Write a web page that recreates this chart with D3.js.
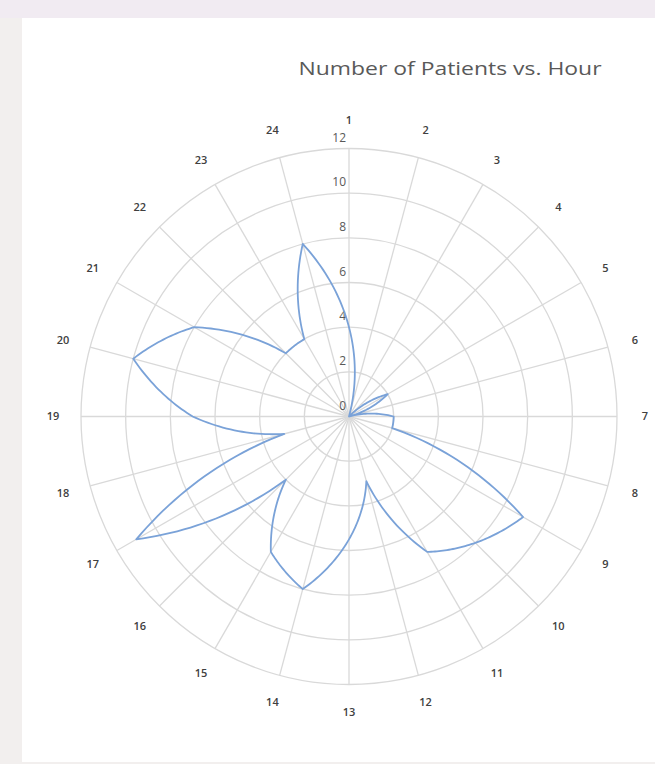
<!DOCTYPE html>
<html>
<head>
<meta charset="utf-8">
<script src="https://cdn.jsdelivr.net/npm/d3@7"></script>
<style>
  html, body { margin: 0; padding: 0; background: #f2efee; }
  svg { display: block; }
</style>
</head>
<body>
<svg id="chart" width="655" height="764"></svg>
<script>
// Hours of the day (spoke labels) and number of patients seen in each hour
const hourLabels = ["1","2","3","4","5","6","7","8","9","10","11","12",
                    "13","14","15","16","17","18","19","20","21","22","23","24"];
const patients = [4, 0, 0, 0, 2, 0, 2, 2, 9, 8, 7, 3,
                  5.5, 8, 7, 4, 11, 3, 7, 10, 8, 4, 4, 8];
const radialTicks = [0, 2, 4, 6, 8, 10, 12];
const chartTitle = "Number of Patients vs. Hour";

const svg = d3.select("#chart");
const W = 655, H = 764;

// page background and white chart panel
svg.append("rect").attr("x", 0).attr("y", 0).attr("width", W).attr("height", H).attr("fill", "#f2efee");
svg.append("rect").attr("x", 0).attr("y", 0).attr("width", W).attr("height", 18).attr("fill", "#f1ebf2");
svg.append("rect").attr("x", 22).attr("y", 18).attr("width", W - 22).attr("height", 744).attr("fill", "#ffffff");

const cx = 349, cy = 416.5, R = 268;

const angle = d3.scaleLinear().domain([0, hourLabels.length]).range([0, 2 * Math.PI]);
const r = d3.scaleLinear().domain([0, 12]).range([0, R]);

const g = svg.append("g").attr("transform", `translate(${cx},${cy})`);

// concentric rings
g.selectAll("circle.ring")
  .data(radialTicks.filter(d => d > 0))
  .join("circle")
  .attr("class", "ring")
  .attr("r", d => r(d))
  .attr("fill", "none")
  .attr("stroke", "#d9d9d9")
  .attr("stroke-width", 1.3);

// spokes, one per hour
g.selectAll("line.spoke")
  .data(hourLabels)
  .join("line")
  .attr("class", "spoke")
  .attr("x1", 0).attr("y1", 0)
  .attr("x2", (d, i) => r(12) * Math.sin(angle(i)))
  .attr("y2", (d, i) => -r(12) * Math.cos(angle(i)))
  .attr("stroke", "#d9d9d9")
  .attr("stroke-width", 1.3);

// radial value labels along the first spoke
g.selectAll("text.tick")
  .data(radialTicks)
  .join("text")
  .attr("class", "tick")
  .attr("x", -3)
  .attr("y", d => -r(d) - 11)
  .attr("dy", "0.35em")
  .attr("text-anchor", "end")
  .attr("font-family", "'Open Sans', sans-serif")
  .attr("font-size", 12)
  .attr("fill", "#595959")
  .text(d => d);

// hour labels around the outside
const labelR = 296;
g.selectAll("text.hour")
  .data(hourLabels)
  .join("text")
  .attr("class", "hour")
  .attr("x", (d, i) => labelR * Math.sin(angle(i)))
  .attr("y", (d, i) => -labelR * Math.cos(angle(i)))
  .attr("dy", "0.35em")
  .attr("text-anchor", "middle")
  .attr("font-family", "'Open Sans', sans-serif")
  .attr("font-size", 11)
  .attr("font-weight", 600)
  .attr("fill", "#404040")
  .text(d => d);

// series line: between two hours the radius changes linearly with the angle,
// so each segment is drawn as a short spiral arc
const steps = 24;
const tracePts = [];
patients.forEach((v, i) => {
  const next = patients[(i + 1) % patients.length];
  for (let k = 0; k < steps; k++) {
    const t = k / steps;
    tracePts.push({ a: angle(i + t), v: v + (next - v) * t });
  }
});

const radial = d3.lineRadial()
  .angle(d => d.a)
  .radius(d => r(d.v))
  .curve(d3.curveLinearClosed);

g.append("path")
  .datum(tracePts)
  .attr("d", radial)
  .attr("fill", "none")
  .attr("stroke", "#7aa2d8")
  .attr("stroke-width", 1.8)
  .attr("stroke-linejoin", "round");

// title
svg.append("text")
  .attr("x", 450)
  .attr("y", 75)
  .attr("text-anchor", "middle")
  .attr("font-family", "'Open Sans', sans-serif")
  .attr("font-size", 18)
  .attr("fill", "#595959")
  .attr("textLength", 303)
  .attr("lengthAdjust", "spacingAndGlyphs")
  .text(chartTitle);
</script>
</body>
</html>
